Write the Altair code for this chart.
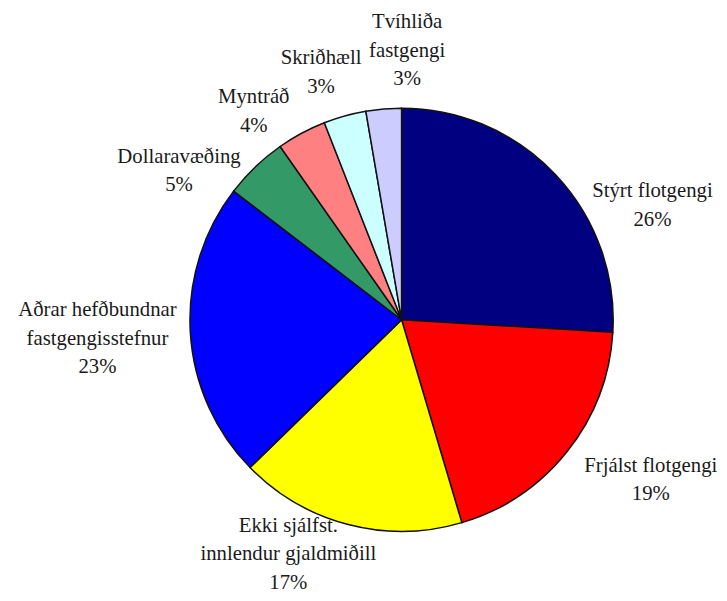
import altair as alt
import pandas as pd

# Data
categories = ["Stýrt flotgengi", "Frjálst flotgengi", "Ekki sjálfst. innlendur gjaldmiðill",
              "Aðrar hefðbundnar fastgengisstefnur", "Dollaravæðing", "Myntráð",
              "Skriðhæll", "Tvíhliða fastgengi"]
label_names = ["Stýrt flotgengi", "Frjálst flotgengi", "Ekki sjálfst.\ninnlendur gjaldmiðill",
               "Aðrar hefðbundnar\nfastgengisstefnur", "Dollaravæðing", "Myntráð",
               "Skriðhæll", "Tvíhliða\nfastgengi"]
values = [48, 36, 32, 42, 9, 7, 6, 5]
colors = ["#000080", "#FF0000", "#FFFF00", "#0000FF", "#339966", "#FF8080", "#CCFFFF", "#CCCCFF"]

total = sum(values)
pcts = [f"{round(v / total * 100)}%" for v in values]
labels = [n + "\n" + p for n, p in zip(label_names, pcts)]
df = pd.DataFrame({
    "idx": list(range(len(categories))),
    "cat": categories,
    "value": values,
    "label": labels,
})

# Label style offsets (placement of each data label around the pie)
label_style = {
    "Stýrt flotgengi": (79, 49),
    "Frjálst flotgengi": (64, 13),
    "Ekki sjálfst. innlendur gjaldmiðill": (-54, 5),
    "Aðrar hefðbundnar fastgengisstefnur": (-68, 5),
    "Dollaravæðing": (-59, 23),
    "Myntráð": (-36, 1),
    "Skriðhæll": (-17, -19),
    "Tvíhliða fastgengi": (26, -33),
}
LINE_H = 29

theta_scale = alt.Scale(domain=[0, total], range=[0, 6.283185307179586])
FONT = "Liberation Serif"

base = alt.Chart(df)

arcs = base.transform_window(
    cum="sum(value)", sort=[alt.SortField("idx")]
).transform_calculate(
    start="datum.cum - datum.value"
).mark_arc(outerRadius=214, stroke="#111111", strokeWidth=1.5).encode(
    theta=alt.Theta("start:Q", scale=theta_scale),
    theta2="cum:Q",
    color=alt.Color("cat:N", scale=alt.Scale(domain=categories, range=colors), legend=None),
)

layers = [arcs]
for c, lab in zip(categories, labels):
    dx, dy = label_style[c]
    nlines = lab.count("\n") + 1
    t = base.transform_window(
        cum="sum(value)", sort=[alt.SortField("idx")]
    ).transform_calculate(
        mid="datum.cum - datum.value / 2"
    ).transform_filter(
        alt.datum.cat == c
    ).mark_text(
        radius=240, dx=dx, dy=dy - (nlines - 1) * LINE_H / 2, lineBreak="\n", lineHeight=LINE_H,
        font=FONT, fontSize=21, color="#1a1a1a", align="center", baseline="middle",
    ).encode(
        theta=alt.Theta("mid:Q", scale=theta_scale),
        text="label:N",
    )
    layers.append(t)

chart = alt.layer(*layers).properties(
    width=500, height=480,
    autosize=alt.AutoSizeParams(type="none"),
    padding={"left": 148, "top": 72, "right": 71, "bottom": 33},
).configure_view(stroke=None)

chart.save("out.html", embed_options={"renderer": "svg", "actions": False})
